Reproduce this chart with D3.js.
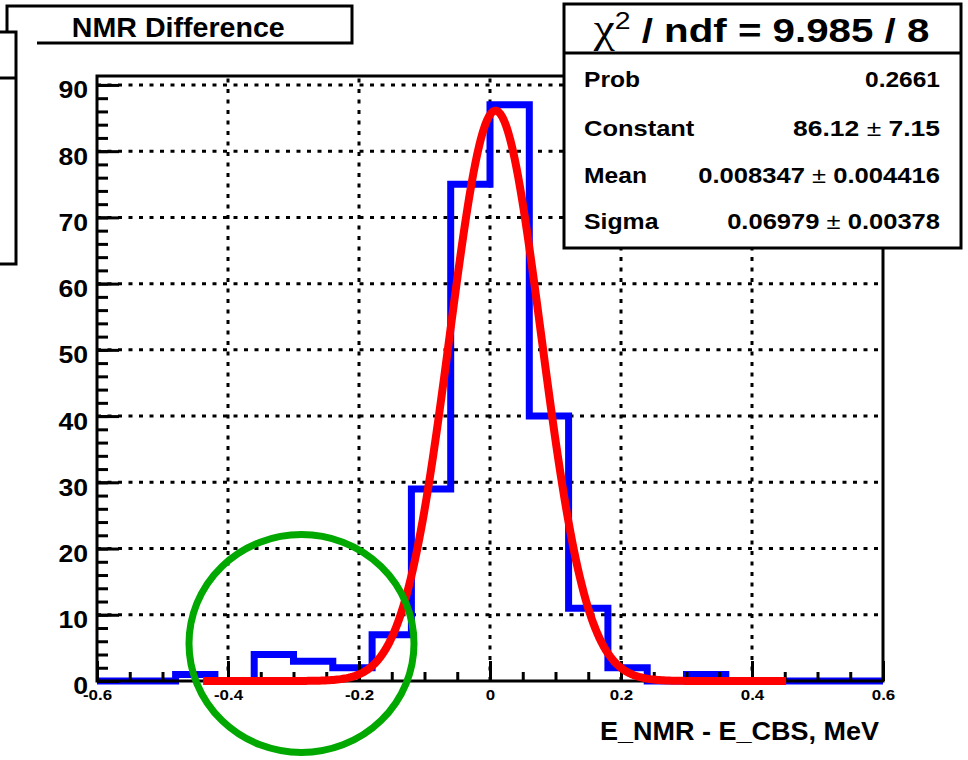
<!DOCTYPE html>
<html>
<head>
<meta charset="utf-8">
<script src="https://cdn.jsdelivr.net/npm/d3@7"></script>
<style>
  body { margin: 0; background: #fff; }
  svg { display: block; }
</style>
</head>
<body>
<svg id="chart" width="968" height="760"></svg>
<script>
// Histogram of E_NMR - E_CBS (MeV), 20 bins on [-0.6, 0.6]
const binEdges = [-0.6, -0.54, -0.48, -0.42, -0.36, -0.30, -0.24, -0.18, -0.12, -0.06, 0,
                  0.06, 0.12, 0.18, 0.24, 0.30, 0.36, 0.42, 0.48, 0.54, 0.6];
const counts = [0, 0, 1, 0, 4, 3, 2, 7, 29, 75, 87, 40, 11, 2, 0, 1, 0, 0, 0, 0];

// Gaussian fit result
const fitConstant = 86.12;
const fitMean = 0.008347;
const fitSigma = 0.06979;
const fitRange = [-0.438, 0.452];

const xTickValues = [-0.6, -0.4, -0.2, 0, 0.2, 0.4, 0.6];
const xTickLabels = ["-0.6", "-0.4", "-0.2", "0", "0.2", "0.4", "0.6"];
const yTickValues = [0, 10, 20, 30, 40, 50, 60, 70, 80, 90];
const yTickLabels = ["0", "10", "20", "30", "40", "50", "60", "70", "80", "90"];

const titleText = "NMR Difference";
const xTitleText = "E_NMR - E_CBS, MeV";
const chiHeader = ["χ", "2", " / ndf = 9.985 / 8"];
const statNames = ["Prob", "Constant", "Mean", "Sigma"];
const statValues = ["0.2661", "86.12", "0.008347", "0.06979"];
const statErrors = [null, "7.15", "0.004416", "0.00378"];

const SANS = "'Liberation Sans', Arial, Helvetica, sans-serif";
const SERIF = "'Liberation Serif', 'Times New Roman', serif";

const svg = d3.select("#chart");
const frame = { left: 97, right: 883, top: 76, bottom: 681 };

const x = d3.scaleLinear().domain([binEdges[0], binEdges[binEdges.length - 1]])
  .range([frame.left, frame.right]);
const y = d3.scaleLinear().domain([0, 1.05 * d3.max(counts)])
  .range([frame.bottom, frame.top]);

// stretch a text node horizontally so it spans the given width
function fitText(sel, width, ax, baseline) {
  const bw = sel.node().getBBox().width;
  sel.attr("transform", `translate(${ax},${baseline}) scale(${width / bw},1)`);
  return sel;
}

// dotted grid
const grid = svg.append("g")
  .attr("stroke", "#000").attr("stroke-width", 3).attr("stroke-dasharray", "4,6.5");
grid.selectAll("line.gv").data(xTickValues.slice(1, -1)).join("line").attr("class", "gv")
  .attr("x1", d => x(d)).attr("x2", d => x(d))
  .attr("y1", frame.bottom).attr("y2", frame.top);
grid.selectAll("line.gh").data(yTickValues.slice(1)).join("line").attr("class", "gh")
  .attr("x1", frame.left).attr("x2", frame.right)
  .attr("y1", d => y(d)).attr("y2", d => y(d));

// histogram outline
const histPts = counts.map((c, i) => [binEdges[i], c])
  .concat([[binEdges[binEdges.length - 1], counts[counts.length - 1]]]);
svg.append("path")
  .attr("d", d3.line().x(d => x(d[0])).y(d => y(d[1])).curve(d3.curveStepAfter)(histPts))
  .attr("fill", "none").attr("stroke", "#0000ff").attr("stroke-width", 7)
  .attr("stroke-linejoin", "miter");

// frame
svg.append("rect")
  .attr("x", frame.left).attr("y", frame.top)
  .attr("width", frame.right - frame.left).attr("height", frame.bottom - frame.top)
  .attr("fill", "none").attr("stroke", "#000").attr("stroke-width", 3);

// y axis: major + minor ticks pointing into the frame
const yMinor = d3.range(0, 91, 2);
const gYm = svg.append("g").attr("transform", `translate(${frame.left},0)`)
  .call(d3.axisLeft(y).tickValues(yMinor).tickFormat("").tickSize(-11));
const gY = svg.append("g").attr("transform", `translate(${frame.left},0)`)
  .call(d3.axisLeft(y).tickValues(yTickValues).tickFormat((d, i) => yTickLabels[i])
    .tickSize(-22).tickPadding(8));

// x axis
const xMinor = d3.range(-12, 13).map(k => k * 0.05);
const gXm = svg.append("g").attr("transform", `translate(0,${frame.bottom})`)
  .call(d3.axisBottom(x).tickValues(xMinor).tickFormat("").tickSize(-9));
const gX = svg.append("g").attr("transform", `translate(0,${frame.bottom})`)
  .call(d3.axisBottom(x).tickValues(xTickValues).tickFormat((d, i) => xTickLabels[i])
    .tickSize(-20).tickPadding(8));

[gYm, gY, gXm, gX].forEach(g => {
  g.select(".domain").remove();
  g.selectAll(".tick line").attr("stroke", "#000").attr("stroke-width", 3);
});
gY.selectAll(".tick text")
  .attr("font-family", SANS).attr("font-weight", "bold").attr("font-size", 24)
  .attr("fill", "#000").attr("dy", "0.54em").attr("transform", "scale(1.11,1)");
gX.selectAll(".tick text")
  .attr("font-family", SANS).attr("font-weight", "bold").attr("font-size", 15.5)
  .attr("fill", "#000").attr("transform", "scale(1.09,1)");

// Gaussian fit curve
const fitPts = d3.range(0, 301).map(k => {
  const xv = fitRange[0] + (fitRange[1] - fitRange[0]) * k / 300;
  return [xv, fitConstant * Math.exp(-0.5 * Math.pow((xv - fitMean) / fitSigma, 2))];
});
svg.append("path")
  .attr("d", d3.line().x(d => x(d[0])).y(d => y(d[1])).curve(d3.curveLinear)(fitPts))
  .attr("fill", "none").attr("stroke", "#ff0000").attr("stroke-width", 8)
  .attr("stroke-linejoin", "round");

// x axis title
fitText(svg.append("text").attr("font-family", SANS).attr("font-weight", "bold")
  .attr("font-size", 25.5).attr("text-anchor", "end").text(xTitleText), 279, 879, 740);

// title pave
svg.append("rect").attr("x", 7).attr("y", 6).attr("width", 345).attr("height", 37).attr("fill", "#fff");
const tb = svg.append("g").attr("stroke", "#000").attr("stroke-width", 3).attr("fill", "none");
tb.append("path").attr("d", "M7,32 V6 H352 V43 H37");
fitText(svg.append("text").attr("font-family", SANS).attr("font-weight", "bold")
  .attr("font-size", 27).attr("text-anchor", "middle").text(titleText), 213, 178.3, 37);

// left pave
svg.append("rect").attr("x", -10).attr("y", 32).attr("width", 26).attr("height", 232)
  .attr("fill", "#fff").attr("stroke", "#000").attr("stroke-width", 3);
svg.append("line").attr("x1", -10).attr("x2", 16).attr("y1", 78).attr("y2", 78)
  .attr("stroke", "#000").attr("stroke-width", 3);

// fit statistics box
svg.append("rect").attr("x", 564).attr("y", 4).attr("width", 397).attr("height", 244)
  .attr("fill", "#fff").attr("stroke", "#000").attr("stroke-width", 3);
svg.append("line").attr("x1", 564).attr("x2", 961).attr("y1", 53).attr("y2", 53)
  .attr("stroke", "#000").attr("stroke-width", 3);

const hdr = svg.append("text").attr("font-family", SANS).attr("font-size", 34)
  .attr("text-anchor", "middle").attr("fill", "#000");
hdr.append("tspan").attr("font-family", SERIF).attr("font-size", 40).text(chiHeader[0]);
hdr.append("tspan").attr("font-size", 24).attr("dy", -13).text(chiHeader[1]);
hdr.append("tspan").attr("dy", 13).attr("font-weight", "bold").text(chiHeader[2]);
fitText(hdr, 337, 761.5, 42);

const rowBase = [87, 136, 183, 229];
const nameWidths = [56, 111, 63, 75];
const valueWidths = [75, 147, 242, 213];
statNames.forEach((name, i) => {
  fitText(svg.append("text").attr("font-family", SANS).attr("font-weight", "bold")
    .attr("font-size", 22.5).attr("text-anchor", "start").text(name),
    nameWidths[i], 584, rowBase[i]);
  const t = svg.append("text").attr("font-family", SANS).attr("font-size", 22.5)
    .attr("text-anchor", "end");
  t.append("tspan").attr("font-weight", "bold").text(statValues[i]);
  if (statErrors[i] !== null) {
    t.append("tspan").text(" ± ");
    t.append("tspan").attr("font-weight", "bold").text(statErrors[i]);
  }
  fitText(t, valueWidths[i], 940, rowBase[i]);
});

// highlight ring around the low-side tail
svg.append("ellipse").attr("cx", 301.5).attr("cy", 643.5).attr("rx", 112.5).attr("ry", 109)
  .attr("fill", "none").attr("stroke", "#00a800").attr("stroke-width", 7);
</script>
</body>
</html>
